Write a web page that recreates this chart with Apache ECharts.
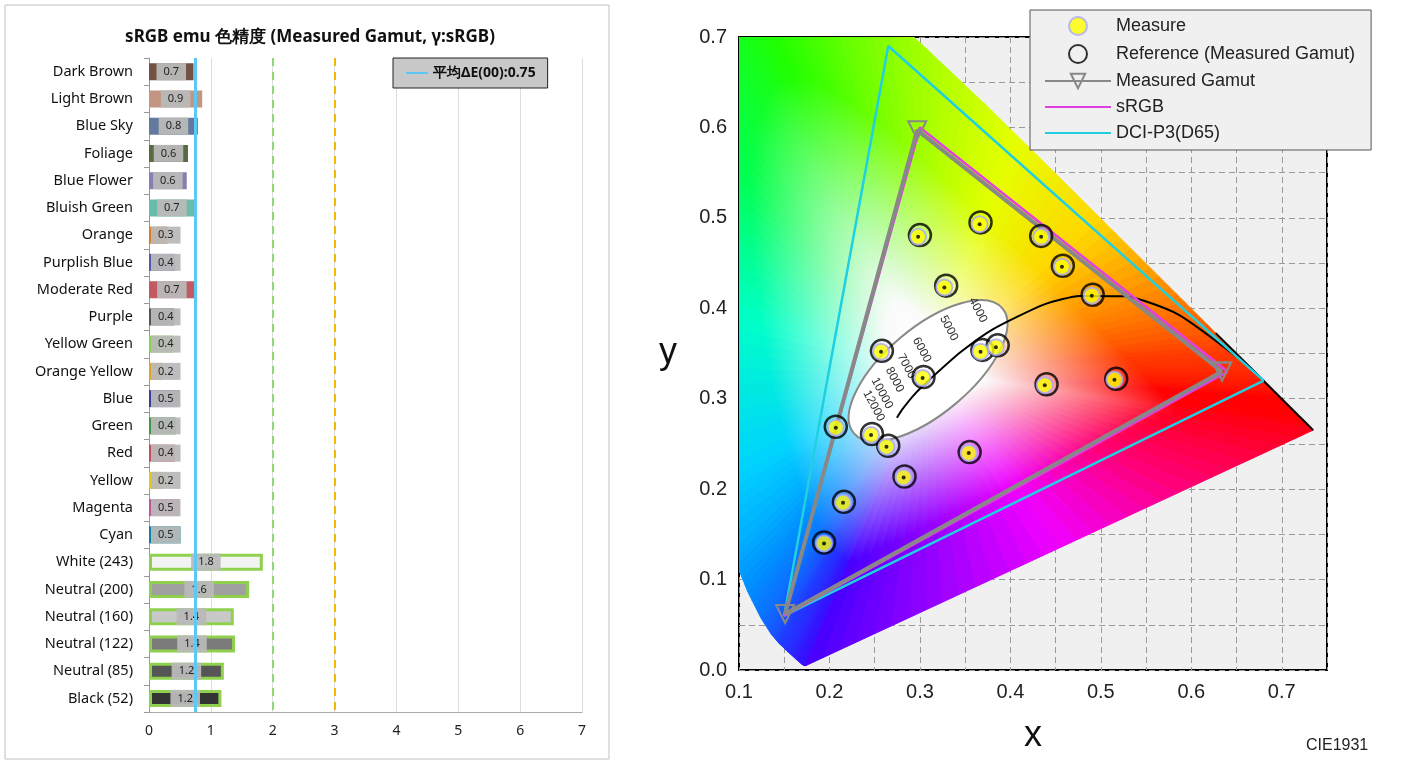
<!DOCTYPE html>
<html><head><meta charset="utf-8">
<script src="https://cdn.jsdelivr.net/npm/echarts@6/dist/echarts.min.js"></script>
<style>html,body{margin:0;padding:0;background:#fff}#c{width:1411px;height:765px}</style>
</head><body><div id="c"></div>
<script>
// ---------- left chart data ----------
const patchNames = ['Dark Brown','Light Brown','Blue Sky','Foliage','Blue Flower','Bluish Green','Orange','Purplish Blue','Moderate Red','Purple','Yellow Green','Orange Yellow','Blue','Green','Red','Yellow','Magenta','Cyan','White (243)','Neutral (200)','Neutral (160)','Neutral (122)','Neutral (85)','Black (52)'];
const deltaE = [0.72,0.86,0.79,0.63,0.61,0.74,0.30,0.42,0.74,0.41,0.39,0.22,0.49,0.43,0.42,0.22,0.49,0.51,1.84,1.62,1.37,1.39,1.21,1.17];
const patchColors = ['#735244','#c29682','#627a9d','#576c43','#8580b1','#67bdaa','#d67e2c','#505ba6','#c15a63','#555555','#8cd050','#e0a32e','#383d96','#469449','#c0505a','#e0c81f','#bb5695','#0885a1','#f3f3f3','#a0a0a0','#c8c8c8','#7a7a7a','#555555','#343434'];
const meanDE = 0.75;
const xTicksLeft = [0,1,2,3,4,5,6,7];

// ---------- right chart data ----------
const measure = [[0.298,0.479],[0.366,0.493],[0.434,0.479],[0.457,0.446],[0.327,0.423],[0.490,0.414],[0.257,0.352],[0.367,0.352],[0.384,0.357],[0.303,0.323],[0.438,0.315],[0.515,0.321],[0.207,0.268],[0.246,0.260],[0.263,0.247],[0.354,0.240],[0.282,0.213],[0.215,0.185],[0.194,0.140]];
const reference = [[0.300,0.481],[0.367,0.495],[0.434,0.480],[0.458,0.447],[0.329,0.425],[0.491,0.415],[0.258,0.353],[0.369,0.354],[0.386,0.359],[0.304,0.324],[0.440,0.316],[0.517,0.322],[0.207,0.269],[0.247,0.261],[0.265,0.248],[0.355,0.241],[0.283,0.214],[0.216,0.186],[0.194,0.141]];
const measuredGamut = [[0.634,0.330],[0.297,0.597],[0.151,0.062],[0.634,0.330]];
const sRGB = [[0.64,0.33],[0.30,0.60],[0.15,0.06],[0.64,0.33]];
const dciP3 = [[0.68,0.32],[0.265,0.69],[0.15,0.06],[0.68,0.32]];
const planck = [[0.2746,0.279],[0.2807,0.2884],[0.2950,0.3059],[0.3135,0.3237],[0.3451,0.3516],[0.3805,0.3768],[0.4369,0.4041],[0.4770,0.4137],[0.5267,0.4133],[0.5857,0.3931],[0.6528,0.3444]];
const cctLabels = ['4000','5000','6000','7000','8000','10000','12000'];
const cctPos = [[0.364,0.398],[0.332,0.378],[0.302,0.354],[0.285,0.336],[0.272,0.321],[0.258,0.306],[0.249,0.292]];
const locusWl = [380,400,420,430,440,450,460,465,470,475,480,485,490,495,500,505,510,515,520,525,530,540,550,560,570,580,590,600,610,620,630,640,650,700];
const locus = [[0.1741,0.0050],[0.1733,0.0048],[0.1714,0.0051],[0.1689,0.0069],[0.1644,0.0109],[0.1566,0.0177],[0.1440,0.0297],[0.1355,0.0399],[0.1241,0.0578],[0.1096,0.0868],[0.0913,0.1327],[0.0687,0.2007],[0.0454,0.2950],[0.0235,0.4127],[0.0082,0.5384],[0.0039,0.6548],[0.0139,0.7502],[0.0389,0.8120],[0.0743,0.8338],[0.1142,0.8262],[0.1547,0.8059],[0.2296,0.7543],[0.3016,0.6923],[0.3731,0.6245],[0.4441,0.5547],[0.5125,0.4866],[0.5752,0.4242],[0.6270,0.3725],[0.6658,0.3340],[0.6915,0.3083],[0.7079,0.2920],[0.7190,0.2809],[0.7260,0.2740],[0.7347,0.2653]];
const whitePt = [0.31,0.33];

// colour style table by wavelength
const wlStops = [[380,[70,0,255]],[440,[50,20,255]],[460,[30,60,255]],[475,[0,140,255]],[485,[0,210,255]],[495,[0,255,200]],[505,[0,255,80]],[520,[30,255,0]],[545,[140,255,0]],[565,[230,255,0]],[578,[255,215,0]],[590,[255,140,0]],[605,[255,60,0]],[625,[255,0,0]],[700,[255,0,20]]];
function wlColor(w){for(let i=0;i<wlStops.length-1;i++){const a=wlStops[i],b=wlStops[i+1];if(w<=b[0]){const t=(w-a[0])/(b[0]-a[0]);return a[1].map((v,k)=>Math.round(v+(b[1][k]-v)*t));}}return wlStops[wlStops.length-1][1];}
function rgb(c){return 'rgb('+c.join(',')+')';}
function mix(a,b,t){return a.map((v,k)=>Math.round(v+(b[k]-v)*t));}
function lerpP(a,b,t){return [a[0]+(b[0]-a[0])*t,a[1]+(b[1]-a[1])*t];}

// build fan wedges (spectral + purple line), each segment split finely for smooth shading
const fan=[];
const SUB=6;
for(let i=0;i<locus.length-1;i++){
  for(let k=0;k<SUB;k++){const t0=k/SUB,t1=(k+1)/SUB,tm=(k+0.5)/SUB;
    fan.push([lerpP(locus[i],locus[i+1],t0),lerpP(locus[i],locus[i+1],t1),wlColor(locusWl[i]+(locusWl[i+1]-locusWl[i])*tm)]);}
}
const pA=locus[locus.length-1],pB=locus[0];
const purpleCols=[[255,0,20],[255,0,120],[240,0,255],[150,0,255],[70,0,255]];
const NP=30;
for(let k=0;k<NP;k++){const t0=k/NP,t1=(k+1)/NP,tm=(k+0.5)/NP*4;const j=Math.min(3,Math.floor(tm));
  fan.push([lerpP(pA,pB,t0),lerpP(pA,pB,t1),mix(purpleCols[j],purpleCols[j+1],tm-j)]);}

const chart = echarts.init(document.getElementById('c'));
const FL = 'Noto Sans, sans-serif', FR = 'Liberation Sans, Arial, sans-serif';

chart.setOption({
  animation:false,
  title:{text:'sRGB emu 色精度 (Measured Gamut, γ:sRGB)',left:305,top:24,textAlign:'center',textStyle:{fontFamily:FL,fontSize:17,fontWeight:'bold',color:'#111'}},
  graphic:[{type:'rect',shape:{x:5,y:5,width:604,height:754},style:{fill:'none',stroke:'#c0c0c0',lineWidth:1},z:-1},
           {type:'text',left:1306,top:738,style:{text:'CIE1931',font:'16px Liberation Sans',fill:'#222'}}],
  legend:[
    {data:[{name:'平均ΔE(00):0.75',itemStyle:{opacity:0}}],left:393,top:58,backgroundColor:'#c8c8c8',borderColor:'#222',borderWidth:1,padding:[8,12],itemWidth:22,textStyle:{fontFamily:FL,fontSize:14,fontWeight:'bold',color:'#111'}},
    {data:['Measure','Reference (Measured Gamut)','Measured Gamut',{name:'sRGB',itemStyle:{opacity:0}},{name:'DCI-P3(D65)',itemStyle:{opacity:0}}],orient:'vertical',left:1030,top:10,width:360,backgroundColor:'#f0f0f0',borderColor:'#555',borderWidth:1,padding:[6,16,8,14],itemGap:8,itemWidth:66,itemHeight:18,textStyle:{fontFamily:FR,fontSize:18,color:'#222'}}
  ],
  grid:[{left:149,top:58,width:433,height:654},{left:739,top:37,width:588,height:633,show:true,backgroundColor:'#f0f0f0',borderColor:'#000',borderWidth:2}],
  xAxis:[
    {gridIndex:0,type:'value',min:0,max:7,interval:1,axisLine:{show:true,lineStyle:{color:'#aaa'}},axisTick:{show:false},splitLine:{lineStyle:{color:'#ddd'}},axisLabel:{fontFamily:FL,fontSize:14,color:'#222',margin:12}},
    {gridIndex:1,type:'value',min:0.1,max:0.75,interval:0.05,name:'x',nameLocation:'middle',nameGap:48,nameTextStyle:{fontFamily:FR,fontSize:36,color:'#111'},axisLine:{show:false},axisTick:{show:false},splitLine:{lineStyle:{color:'#999',type:[6,4]}},axisLabel:{fontFamily:FR,fontSize:20,color:'#222',margin:12,formatter:v=>{const r=Math.round(v*100);return (r%10===0&&r<=70)?(r/100).toFixed(1):'';}}}
  ],
  yAxis:[
    {gridIndex:0,type:'category',data:patchNames,inverse:true,axisLine:{show:true,lineStyle:{color:'#999'}},axisTick:{show:true,lineStyle:{color:'#999'}},axisLabel:{fontFamily:FL,fontSize:14.5,color:'#111',margin:16}},
    {gridIndex:1,type:'value',min:0,max:0.7,interval:0.05,name:'y',nameLocation:'middle',nameRotate:0,nameGap:62,nameTextStyle:{fontFamily:FR,fontSize:36,color:'#111'},axisLine:{show:false},axisTick:{show:false},splitLine:{lineStyle:{color:'#999',type:[6,4]}},axisLabel:{fontFamily:FR,fontSize:20,color:'#222',margin:12,formatter:v=>{const r=Math.round(v*100);return r%10===0?(r/100).toFixed(1):'';}}}
  ],
  series:[
    {type:'bar',xAxisIndex:0,yAxisIndex:0,barWidth:17,z:2,
     data:deltaE.map((v,i)=>({value:v,itemStyle:{color:patchColors[i],borderColor:i>=18?'#8fd14f':'transparent',borderWidth:i>=18?3:0},
       label:{show:true,position:v<0.55?'insideLeft':'inside',distance:2,formatter:()=>v.toFixed(1),fontFamily:FL,fontSize:11,color:'#222',backgroundColor:'rgba(185,185,185,0.95)',padding:[3,7]}}))},
    {type:'line',name:'平均ΔE(00):0.75',xAxisIndex:0,yAxisIndex:0,data:[],symbol:'none',color:'#5bc8f5',lineStyle:{color:'#5bc8f5',width:3},z:1,
     markLine:{silent:true,symbol:'none',label:{show:false},data:[
       {xAxis:2,lineStyle:{color:'#90d870',width:2,type:[8,6]}},
       {xAxis:3,lineStyle:{color:'#f5b800',width:2,type:[8,6]}},
       {xAxis:meanDE,lineStyle:{color:'#5bc8f5',width:3,type:'solid'}}]}},
    // CIE fill
    {type:'custom',xAxisIndex:1,yAxisIndex:1,clip:true,silent:true,z:1,data:fan.map((f,i)=>[i]),
     renderItem:(params,api)=>{const f=fan[params.dataIndex];const w=api.coord(whitePt),a=api.coord(f[0]),b=api.coord(f[1]);
       const m=[(a[0]+b[0])/2,(a[1]+b[1])/2];const c=rgb(f[2]);
       const g=new echarts.graphic.LinearGradient(w[0],w[1],m[0],m[1],[{offset:0,color:'#ffffff'},{offset:0.15,color:'#fbfbfb'},{offset:0.65,color:c},{offset:1,color:c}],true);
       return {type:'polygon',shape:{points:[w,a,b]},style:{fill:g,stroke:g,lineWidth:1}};}},
    {type:'line',xAxisIndex:1,yAxisIndex:1,data:locus.slice(locusWl.indexOf(600)),symbol:'none',lineStyle:{color:'#000',width:2},z:2,silent:true},
    // ellipse inset
    {type:'custom',xAxisIndex:1,yAxisIndex:1,z:3,silent:true,data:[[0.309,0.331]],
     renderItem:(params,api)=>{const p=api.coord([api.value(0),api.value(1)]);
       return {type:'ellipse',shape:{cx:0,cy:0,rx:97,ry:43},x:p[0],y:p[1],rotation:40*Math.PI/180,style:{fill:'#fff',stroke:'#888',lineWidth:2}};}},
    {type:'line',xAxisIndex:1,yAxisIndex:1,data:planck,smooth:0.2,symbol:'none',lineStyle:{color:'#000',width:2},z:4,silent:true},
    {type:'custom',xAxisIndex:1,yAxisIndex:1,z:5,silent:true,data:cctPos.map((p,i)=>[p[0],p[1],i]),
     renderItem:(params,api)=>{const p=api.coord([api.value(0),api.value(1)]);
       return {type:'text',x:p[0],y:p[1],rotation:-62*Math.PI/180,style:{text:cctLabels[api.value(2)],font:'12px Liberation Sans',fill:'#333',align:'center',verticalAlign:'middle'}};}},
    {type:'line',name:'DCI-P3(D65)',xAxisIndex:1,yAxisIndex:1,data:dciP3,symbol:'none',color:'#20d0e0',lineStyle:{color:'#20d0e0',width:2.5},z:6},
    {type:'line',name:'sRGB',xAxisIndex:1,yAxisIndex:1,data:sRGB,symbol:'none',color:'#e040e0',lineStyle:{color:'#e040e0',width:2.5},z:6},
    {type:'line',name:'Measured Gamut',xAxisIndex:1,yAxisIndex:1,data:measuredGamut,symbol:'triangle',symbolRotate:180,symbolSize:18,color:'#888',lineStyle:{color:'#888',width:4},itemStyle:{color:'rgba(255,255,255,0)',borderColor:'#888',borderWidth:2},z:7},
    {type:'scatter',name:'Reference (Measured Gamut)',xAxisIndex:1,yAxisIndex:1,data:reference,symbol:'circle',symbolSize:22,itemStyle:{color:'rgba(255,255,255,0)',borderColor:'#000',borderWidth:2.5},z:8},
    {type:'scatter',name:'Measure',xAxisIndex:1,yAxisIndex:1,data:measure,symbol:'circle',symbolSize:16,itemStyle:{color:'#ffff00',borderColor:'#a8a8ff',borderWidth:2},z:9},
    {type:'scatter',xAxisIndex:1,yAxisIndex:1,data:measure,symbol:'circle',symbolSize:4,itemStyle:{color:'#000'},z:10,silent:true}
  ]
});
</script></body></html>
